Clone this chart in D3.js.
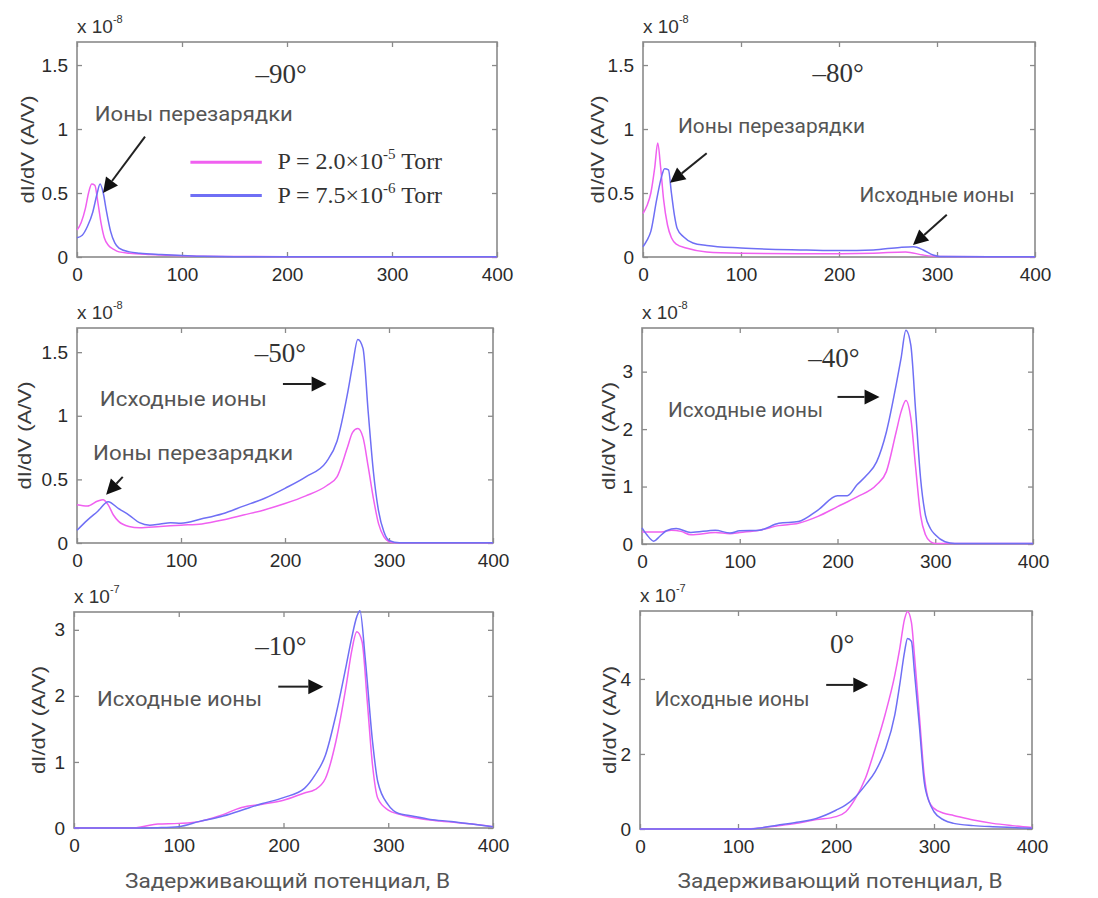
<!DOCTYPE html>
<html>
<head>
<meta charset="utf-8">
<script src="https://cdn.jsdelivr.net/npm/d3@7/dist/d3.min.js"></script>
<style>
  body { margin: 0; background: #fff; }
  svg { display: block; }
</style>
</head>
<body>
<svg id="fig" width="1098" height="898"></svg>
<script>
// ---- data: [retarding potential (V), dI/dV in units of the panel exponent]
const xTicks = [0, 100, 200, 300, 400];

const pink90 = [[0,0.21],[4,0.27],[8,0.38],[11,0.5],[14,0.57],[17,0.56],[20,0.42],[23,0.26],[26,0.15],[30,0.09],[35,0.06],[40,0.04],[50,0.03],[70,0.02],[100,0.01],[150,0.004],[200,0.002],[300,0.002],[400,0.002]];
const blue90 = [[0,0.15],[5,0.17],[10,0.24],[15,0.35],[19,0.49],[22,0.57],[25,0.5],[28,0.36],[32,0.2],[36,0.11],[40,0.07],[50,0.04],[60,0.03],[80,0.02],[100,0.012],[120,0.005],[150,0.002],[400,0.002]];

const pink80 = [[0,0.34],[4,0.4],[8,0.5],[12,0.7],[15,0.89],[18,0.7],[21,0.45],[25,0.25],[29,0.15],[34,0.1],[44,0.07],[65,0.04],[100,0.03],[170,0.025],[235,0.03],[268,0.04],[286,0.015],[303,0.003],[400,0.002]];
const blue80 = [[0,0.08],[4,0.13],[8,0.2],[14,0.45],[19,0.63],[22,0.69],[26,0.68],[29,0.5],[32,0.33],[35,0.22],[41,0.16],[51,0.11],[65,0.09],[100,0.07],[167,0.055],[201,0.05],[235,0.055],[262,0.075],[276,0.08],[286,0.055],[296,0.015],[303,0.003],[400,0.002]];

const pink50 = [[0,0.30],[10,0.29],[20,0.33],[25,0.34],[30,0.30],[35,0.22],[40,0.17],[50,0.13],[60,0.12],[80,0.13],[100,0.14],[120,0.15],[140,0.18],[160,0.22],[180,0.26],[200,0.31],[220,0.37],[240,0.45],[250,0.52],[260,0.75],[265,0.87],[270,0.90],[275,0.83],[280,0.6],[285,0.35],[290,0.15],[295,0.05],[300,0.01],[305,0.002],[400,0.002]];
const blue50 = [[0,0.10],[10,0.18],[20,0.25],[30,0.325],[40,0.27],[50,0.22],[60,0.16],[70,0.14],[80,0.15],[90,0.16],[100,0.155],[120,0.19],[140,0.23],[160,0.29],[180,0.35],[200,0.43],[220,0.52],[240,0.64],[250,0.8],[260,1.17],[265,1.40],[270,1.60],[275,1.53],[280,1.03],[285,0.56],[290,0.25],[295,0.09],[300,0.02],[310,0.002],[400,0.002]];

const pink40 = [[0,0.21],[20,0.21],[30,0.24],[40,0.22],[50,0.16],[75,0.2],[90,0.18],[100,0.2],[120,0.24],[140,0.32],[160,0.36],[180,0.48],[200,0.65],[220,0.82],[240,1.03],[250,1.26],[260,1.95],[265,2.3],[270,2.5],[275,2.19],[280,1.32],[285,0.5],[290,0.16],[295,0.04],[300,0.01],[400,0.01]];
const blue40 = [[0,0.28],[5,0.16],[12,0.05],[18,0.13],[25,0.23],[35,0.27],[50,0.2],[75,0.24],[90,0.19],[100,0.23],[120,0.24],[140,0.36],[160,0.39],[180,0.59],[200,0.84],[210,0.84],[220,1.03],[230,1.2],[240,1.43],[250,1.95],[260,2.77],[265,3.23],[270,3.72],[275,3.46],[280,2.3],[285,1.14],[290,0.5],[295,0.27],[300,0.16],[310,0.04],[320,0.01],[400,0.01]];

const pink10 = [[0,0],[55,0],[65,0.02],[80,0.06],[100,0.07],[120,0.1],[140,0.19],[160,0.31],[180,0.36],[200,0.42],[220,0.53],[230,0.58],[240,0.75],[250,1.31],[260,2.17],[265,2.67],[270,2.97],[275,2.82],[280,1.91],[285,0.95],[290,0.45],[300,0.27],[310,0.21],[320,0.17],[340,0.12],[360,0.09],[380,0.06],[400,0.02]];
const blue10 = [[0,0],[60,0],[80,0.005],[100,0.02],[120,0.1],[140,0.17],[160,0.27],[180,0.37],[200,0.46],[220,0.6],[230,0.8],[240,1.1],[250,1.71],[260,2.47],[265,2.87],[270,3.2],[273,3.29],[278,2.57],[285,1.31],[290,0.7],[300,0.35],[310,0.22],[320,0.19],[340,0.13],[360,0.1],[380,0.06],[400,0.02]];

const pink0 = [[0,0],[110,0],[120,0.02],[140,0.08],[160,0.15],[180,0.25],[200,0.33],[210,0.46],[220,0.82],[230,1.35],[240,2.15],[250,3.04],[260,4.1],[265,4.8],[270,5.6],[273,5.8],[277,5.5],[280,4.64],[285,3.04],[290,1.44],[295,0.73],[300,0.55],[310,0.42],[320,0.36],[340,0.24],[360,0.15],[380,0.09],[400,0.04]];
const blue0 = [[0,0],[110,0],[120,0.02],[140,0.1],[160,0.18],[180,0.28],[200,0.5],[210,0.64],[220,0.86],[230,1.17],[240,1.53],[250,2.1],[260,3.04],[265,3.84],[270,4.73],[273,5.08],[277,5.0],[280,4.2],[285,2.77],[290,1.26],[295,0.73],[300,0.46],[310,0.24],[320,0.15],[340,0.09],[360,0.06],[380,0.04],[400,0.02]];

const legendLabels = [["P = 2.0×10", "-5", " Torr"], ["P = 7.5×10", "-6", " Torr"]];
const xLabel = "Задерживающий потенциал, В";
const yLabel = "dI/dV (A/V)";

// ---- layout
const PINK = "#f060f0", BLUE = "#6f6ff5";
const serif = "'Liberation Serif', 'Times New Roman', serif";
const sans = "'Liberation Sans', Arial, sans-serif";
const cond = "Roboto, 'Noto Sans', sans-serif";

const panels = [
  { box: [77, 497, 42, 257], ymax: 1.68, yTicks: [0, 0.5, 1, 1.5], exp: "-8", ylabDx: -50,
    pink: pink90, blue: blue90, angle: ["–90°", 170, 1.36], legend: true,
    notes: [["Ионы перезарядки", 17, 1.06, 198]],
    arrows: [[64.8, 0.94, 24.8, 0.5]] },
  { box: [643, 1035, 42, 257], ymax: 1.68, yTicks: [0, 0.5, 1, 1.5], exp: "-8", ylabDx: -46,
    pink: pink80, blue: blue80, angle: ["–80°", 173, 1.37],
    notes: [["Ионы перезарядки", 35.7, 0.97, 187], ["Исходные ионы", 221, 0.43, 155]],
    arrows: [[65, 0.81, 27.6, 0.58], [310, 0.33, 275.5, 0.094]] },
  { box: [77, 493, 328, 543], ymax: 1.69, yTicks: [0, 0.5, 1, 1.5], exp: "-8", ylabDx: -53,
    pink: pink50, blue: blue50, angle: ["–50°", 171, 1.42],
    notes: [["Исходные ионы", 22, 1.08, 167], ["Ионы перезарядки", 15.4, 0.65, 200]],
    arrows: [[198, 1.25, 240, 1.25], [44, 0.52, 28, 0.38]] },
  { box: [642, 1033, 328, 544], ymax: 3.76, yTicks: [0, 1, 2, 3], exp: "-8", ylabDx: -34,
    pink: pink40, blue: blue40, angle: ["–40°", 170, 3.08],
    notes: [["Исходные ионы", 26.6, 2.21, 155]],
    arrows: [[200, 2.56, 243, 2.56]] },
  { box: [74, 493, 612, 828], ymax: 3.27, yTicks: [0, 1, 2, 3], exp: "-7", ylabDx: -36,
    pink: pink10, blue: blue10, angle: ["–10°", 173, 2.62], xlab: true,
    notes: [["Исходные ионы", 22, 1.85, 165]],
    arrows: [[195, 2.14, 238, 2.14]] },
  { box: [640, 1032, 611, 829], ymax: 5.81, yTicks: [0, 2, 4], exp: "-7", ylabDx: -31,
    pink: pink0, blue: blue0, angle: ["0°", 194, 4.69], xlab: true,
    notes: [["Исходные ионы", 15, 3.28, 155]],
    arrows: [[190, 3.84, 233, 3.84]] }
];

const svg = d3.select("#fig");
svg.append("rect").attr("width", 1098).attr("height", 898).attr("fill", "#fff");

function arrow(g, x1, y1, x2, y2) {
  const ang = Math.atan2(y2 - y1, x2 - x1);
  const L = 15, W = 7.5;
  const bx = x2 - L * Math.cos(ang), by = y2 - L * Math.sin(ang);
  g.append("line")
    .attr("x1", x1).attr("y1", y1).attr("x2", bx).attr("y2", by)
    .attr("stroke", "#222").attr("stroke-width", 2);
  const pts = [
    [x2, y2],
    [bx + W * Math.sin(ang), by - W * Math.cos(ang)],
    [bx - W * Math.sin(ang), by + W * Math.cos(ang)]
  ];
  g.append("polygon").attr("points", pts.map(p => p.join(",")).join(" ")).attr("fill", "#111");
}

panels.forEach(p => {
  const [l, r, t, b] = p.box;
  const x = d3.scaleLinear().domain([0, 400]).range([l, r]);
  const y = d3.scaleLinear().domain([0, p.ymax]).range([b, t]);
  const g = svg.append("g");

  // box
  g.append("rect")
    .attr("x", l).attr("y", t).attr("width", r - l).attr("height", b - t)
    .attr("fill", "none").attr("stroke", "#8a8a8a").attr("stroke-width", 1.6);

  // axes (ticks inward, MATLAB style)
  const fmt = d => d3.format("~g")(d);
  const axB = g.append("g").attr("transform", `translate(0,${b})`)
    .call(d3.axisBottom(x).tickValues(xTicks).tickSizeInner(-5).tickSizeOuter(0).tickPadding(11).tickFormat(fmt));
  const axT = g.append("g").attr("transform", `translate(0,${t})`)
    .call(d3.axisTop(x).tickValues(xTicks).tickSizeInner(-5).tickSizeOuter(0).tickFormat(""));
  const axL = g.append("g").attr("transform", `translate(${l},0)`)
    .call(d3.axisLeft(y).tickValues(p.yTicks).tickSizeInner(-5).tickSizeOuter(0).tickPadding(9).tickFormat(fmt));
  const axR = g.append("g").attr("transform", `translate(${r},0)`)
    .call(d3.axisRight(y).tickValues(p.yTicks).tickSizeInner(-5).tickSizeOuter(0).tickFormat(""));
  [axB, axT, axL, axR].forEach(a => {
    a.select(".domain").remove();
    a.selectAll(".tick line").attr("stroke", "#8a8a8a").attr("stroke-width", 1.3);
    a.selectAll(".tick text").attr("fill", "#2a2a2a").attr("font-family", sans).attr("font-size", 19);
  });

  // exponent label
  const ex = g.append("text").attr("x", l).attr("y", t - 9)
    .attr("font-family", sans).attr("font-size", 19).attr("fill", "#333");
  ex.append("tspan").text("x 10");
  ex.append("tspan").attr("dy", -10).attr("font-size", 11).text(p.exp);

  // y label
  g.append("text")
    .attr("transform", `translate(${l + p.ylabDx + 7},${(t + b) / 2}) rotate(-90)`)
    .attr("text-anchor", "middle")
    .attr("font-family", sans).attr("font-size", 19).attr("fill", "#3a3a3a")
    .attr("textLength", 108).attr("lengthAdjust", "spacingAndGlyphs")
    .text(yLabel);

  // curves
  const line = d3.line().x(d => x(d[0])).y(d => y(d[1])).curve(d3.curveMonotoneX);
  g.append("path").datum(p.pink).attr("d", line)
    .attr("fill", "none").attr("stroke", PINK).attr("stroke-width", 1.5);
  g.append("path").datum(p.blue).attr("d", line)
    .attr("fill", "none").attr("stroke", BLUE).attr("stroke-width", 1.5);

  // angle label
  g.append("text").attr("x", x(p.angle[1])).attr("y", y(p.angle[2]))
    .attr("font-family", serif).attr("font-size", 27).attr("fill", "#333")
    .text(p.angle[0]);

  // annotations
  p.notes.forEach(n => {
    g.append("text").attr("x", x(n[1])).attr("y", y(n[2]))
      .attr("font-family", cond).attr("font-size", 21).attr("fill", "#555")
      .attr("textLength", n[3]).attr("lengthAdjust", "spacingAndGlyphs")
      .text(n[0]);
  });
  p.arrows.forEach(a => arrow(g, x(a[0]), y(a[1]), x(a[2]), y(a[3])));

  // legend
  if (p.legend) {
    const rows = [[PINK, 0.74], [BLUE, 0.48]];
    rows.forEach((row, i) => {
      g.append("line")
        .attr("x1", x(108)).attr("x2", x(176)).attr("y1", y(row[1])).attr("y2", y(row[1]))
        .attr("stroke", row[0]).attr("stroke-width", 3);
      const tx = g.append("text").attr("x", x(191)).attr("y", y(row[1]) + 7)
        .attr("font-family", serif).attr("font-size", 24).attr("fill", "#333");
      tx.append("tspan").text(legendLabels[i][0]);
      tx.append("tspan").attr("dy", -10).attr("font-size", 15).text(legendLabels[i][1]);
      tx.append("tspan").attr("dy", 10).text(legendLabels[i][2]);
    });
  }

  // x label
  if (p.xlab) {
    g.append("text").attr("x", (l + r) / 2 + 4).attr("y", 888)
      .attr("text-anchor", "middle")
      .attr("font-family", cond).attr("font-size", 21).attr("fill", "#555")
      .attr("textLength", 325).attr("lengthAdjust", "spacingAndGlyphs")
      .text(xLabel);
  }
});
</script>
</body>
</html>
